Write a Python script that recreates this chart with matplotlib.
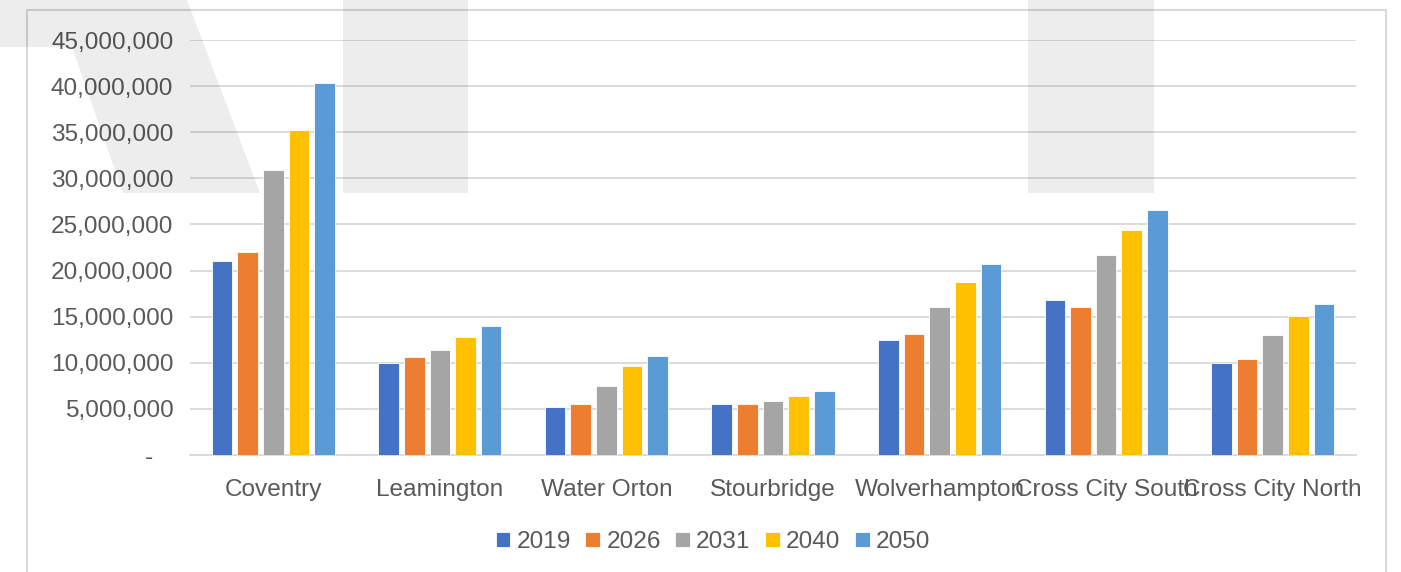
import numpy as np
import matplotlib
matplotlib.use("Agg")
import matplotlib.pyplot as plt
from matplotlib.patches import Polygon, Rectangle
from matplotlib.ticker import FuncFormatter

# Chart values.
routes = ["Coventry", "Leamington", "Water Orton", "Stourbridge",
          "Wolverhampton", "Cross City South", "Cross City North"]
years = ["2019", "2026", "2031", "2040", "2050"]
v2019 = [21.0e6, 10.0e6, 5.2e6, 5.5e6, 12.5e6, 16.8e6, 10.0e6]
v2026 = [22.0e6, 10.6e6, 5.5e6, 5.5e6, 13.1e6, 16.1e6, 10.4e6]
v2031 = [30.9e6, 11.4e6, 7.5e6, 5.9e6, 16.1e6, 21.7e6, 13.0e6]
v2040 = [35.2e6, 12.8e6, 9.7e6, 6.4e6, 18.8e6, 24.4e6, 15.1e6]
v2050 = [40.3e6, 14.0e6, 10.7e6, 6.9e6, 20.7e6, 26.6e6, 16.4e6]
y_ticks = [0, 5e6, 10e6, 15e6, 20e6, 25e6, 30e6, 35e6, 40e6, 45e6]

series = [v2019, v2026, v2031, v2040, v2050]
colours = ["#4472C4", "#ED7D31", "#A5A5A5", "#FFC000", "#5B9BD5"]

plt.rcParams["font.family"] = ["Liberation Sans", "DejaVu Sans"]
text_col = "#595959"
grid_col = "#d9d9d9"
fsize = 17.6

W, H = 1401, 572
fig = plt.figure(figsize=(W / 100, H / 100), dpi=100)


# Helper to turn pixel boxes (top-left origin) into figure fractions.
def fx(px):
    return px / W


def fy(py):
    return 1 - py / H


# Outer chart frame.
fig.patches.append(Rectangle((fx(27), fy(600)), fx(1386) - fx(27), fy(10) - fy(600),
                             transform=fig.transFigure, fill=False,
                             edgecolor=grid_col, linewidth=1.5, zorder=0))

ax = fig.add_axes([fx(190), fy(455), fx(1356) - fx(190), fy(40) - fy(455)])
ax.set_facecolor("none")

x = np.arange(len(routes))
pitch = 0.154
width = 0.124
for i, (vals, col, yr) in enumerate(zip(series, colours, years)):
    ax.bar(x + (i - 2) * pitch, vals, width, color=col, label=yr,
           edgecolor="white", linewidth=0.6, zorder=3)

ax.set_xlim(-0.5, len(routes) - 0.5)
ax.set_ylim(0, 45e6)
ax.set_yticks(y_ticks)
ax.yaxis.set_major_formatter(FuncFormatter(lambda v, p: "-   " if v == 0 else f"{v:,.0f}"))
ax.set_xticks(x)
ax.set_xticklabels(routes)
ax.grid(axis="y", color=grid_col, linewidth=1.3, zorder=0)
ax.set_axisbelow(True)
for s in ["top", "right", "left"]:
    ax.spines[s].set_visible(False)
ax.spines["bottom"].set_color(grid_col)
ax.spines["bottom"].set_linewidth(1.3)
ax.tick_params(axis="both", length=0, labelsize=fsize, labelcolor=text_col)
ax.tick_params(axis="y", pad=12)
ax.tick_params(axis="x", pad=17)

fig.legend(loc="center", bbox_to_anchor=(fx(713), fy(542)), ncol=5, frameon=False,
           fontsize=fsize, labelcolor=text_col, handlelength=0.6, handleheight=0.6,
           handletextpad=0.25, columnspacing=0.6)

# Faint watermark shapes laid over the whole picture.
wm = dict(transform=fig.transFigure, facecolor="black", alpha=0.07,
          edgecolor="none", zorder=10)
fig.patches.append(Polygon([(fx(0), fy(0)), (fx(187), fy(0)), (fx(260), fy(193)),
                            (fx(123), fy(193)), (fx(72), fy(47)), (fx(0), fy(47))], **wm))
fig.patches.append(Rectangle((fx(343), fy(193)), fx(468) - fx(343), fy(0) - fy(193), **wm))
fig.patches.append(Rectangle((fx(1028), fy(193)), fx(1154) - fx(1028), fy(0) - fy(193), **wm))

fig.savefig("out.png", dpi=100)
